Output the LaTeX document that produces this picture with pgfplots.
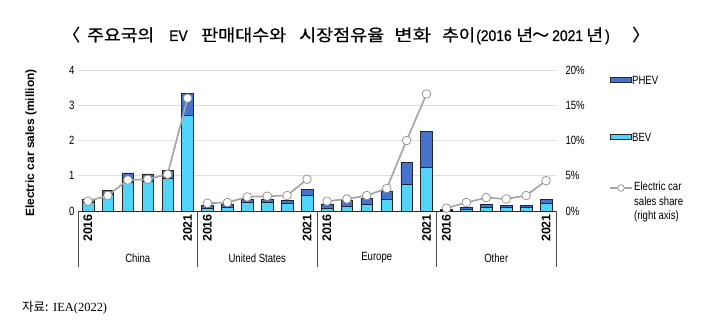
\documentclass[border=0pt]{standalone}
\usepackage{pgfplots}
\pgfplotsset{compat=1.18}
\usepackage{graphicx}
\usepackage{fontspec}
\setmainfont{Liberation Sans}
\newfontfamily\narrow{Liberation Sans}[FakeStretch=0.8]
\newfontfamily\latT{Liberation Sans}[FakeBold=0.9, FakeStretch=0.9]
\newfontfamily\cjk{Noto Sans CJK KR}
\newfontfamily\cjkT{Noto Sans CJK KR}[FakeBold=0.6]
\newfontfamily\serif{Liberation Serif}
\definecolor{bev}{HTML}{50D4FA}
\definecolor{phev}{HTML}{4472CC}
\definecolor{shareline}{HTML}{A6A6A6}
\definecolor{sharemark}{HTML}{8C8C8C}
\pgfplotsset{share/.style={shareline, line width=1.7pt, line join=round, mark=*, mark size=4.3bp, mark options={fill=white, draw=sharemark, line width=0.7pt}}}
\tikzset{tH/.style={anchor=base west, inner sep=0pt, font=\cjkT\fontsize{17}{18}\selectfont},
         tL/.style={anchor=base west, inner sep=0pt, font=\latT\fontsize{15.5}{18}\selectfont}}
\newcommand{\hw}[2]{\resizebox{#1}{13.5bp}{#2}}
\begin{document}
\begin{tikzpicture}
\useasboundingbox (0,0) rectangle (701bp,321bp);
\begin{axis}[
  at={(78bp,110bp)}, anchor=south west,
  scale only axis, width=478bp, height=141bp,
  xmin=-0.5, xmax=23.5, ymin=0, ymax=4,
  ybar stacked, bar width=11.6bp,
  axis x line*=bottom, axis y line*=left,
  x axis line style={draw=black!85, line width=0.7pt, -},
  y axis line style={draw=none},
  ytick={0,1,2,3,4},
  ymajorgrids, grid style={draw=black!13, line width=0.7pt},
  xtick={0,5,6,11,12,17,18,23},
  xticklabels={2016,2021,2016,2021,2016,2021,2016,2021},
  xticklabel style={yshift=-3bp, rotate=90, anchor=east, font=\bfseries\fontsize{12.5}{13}\selectfont, inner sep=0pt},
  major tick length=0pt,
  /pgf/number format/assume math mode=true,
  yticklabel style={font=\narrow\fontsize{12}{13}\selectfont},
  clip=false,
]
\addplot[fill=bev, draw=black!85, line width=0.5pt] coordinates {
 (0,0.26) (1,0.47) (2,0.82) (3,0.83) (4,0.93) (5,2.73)
 (6,0.08) (7,0.10) (8,0.24) (9,0.245) (10,0.23) (11,0.45)
 (12,0.09) (13,0.13) (14,0.19) (15,0.34) (16,0.75) (17,1.23)
 (18,0.02) (19,0.04) (20,0.11) (21,0.10) (22,0.10) (23,0.21)};
\addplot[fill=phev, draw=black!85, line width=0.5pt] coordinates {
 (0,0.08) (1,0.11) (2,0.26) (3,0.22) (4,0.22) (5,0.60)
 (6,0.08) (7,0.08) (8,0.10) (9,0.085) (10,0.07) (11,0.16)
 (12,0.11) (13,0.17) (14,0.17) (15,0.23) (16,0.62) (17,1.03)
 (18,0.03) (19,0.07) (20,0.09) (21,0.07) (22,0.07) (23,0.12)};
\draw[black!70, line width=0.6pt] (axis cs:-0.5,0) -- ([yshift=-56bp]axis cs:-0.5,0);
\draw[black!70, line width=0.6pt] (axis cs:5.5,0) -- ([yshift=-56bp]axis cs:5.5,0);
\draw[black!70, line width=0.6pt] (axis cs:11.5,0) -- ([yshift=-56bp]axis cs:11.5,0);
\draw[black!70, line width=0.6pt] (axis cs:17.5,0) -- ([yshift=-56bp]axis cs:17.5,0);
\draw[black!70, line width=0.6pt] (axis cs:23.5,0) -- ([yshift=-56bp]axis cs:23.5,0);
\node[font=\narrow\fontsize{12}{13}\selectfont] at ([yshift=-47bp]axis cs:2.5,0) {China};
\node[font=\narrow\fontsize{12}{13}\selectfont] at ([yshift=-47bp]axis cs:8.5,0) {United States};
\node[font=\narrow\fontsize{12}{13}\selectfont] at ([yshift=-47bp]axis cs:14.5,0) {Europe};
\node[font=\narrow\fontsize{12}{13}\selectfont] at ([yshift=-47bp]axis cs:20.5,0) {Other};
\end{axis}
\begin{axis}[
  at={(78bp,110bp)}, anchor=south west,
  scale only axis, width=478bp, height=141bp,
  xmin=-0.5, xmax=23.5, ymin=0, ymax=20,
  axis x line=none, axis y line*=right,
  y axis line style={draw=none},
  ytick={0,5,10,15,20},
  yticklabel={\pgfmathprintnumber{\tick}\%},
  major tick length=0pt,
  /pgf/number format/assume math mode=true,
  yticklabel style={font=\narrow\fontsize{12}{13}\selectfont, anchor=west, xshift=6bp},
  clip=false,
]
\addplot[share] coordinates {(0,1.4) (1,2.2) (2,4.4) (3,4.5) (4,5.2) (5,16.0)};
\addplot[share] coordinates {(6,1.1) (7,1.2) (8,2.0) (9,2.1) (10,2.2) (11,4.5)};
\addplot[share] coordinates {(12,1.4) (13,1.7) (14,2.2) (15,3.2) (16,10.0) (17,16.6)};
\addplot[share] coordinates {(18,0.4) (19,1.2) (20,1.9) (21,1.7) (22,2.2) (23,4.3)};
\end{axis}
% y label
\node[rotate=90, font=\bfseries\fontsize{12}{13}\selectfont] at (31bp,178bp) {Electric car sales (million)};
% legend
\draw[fill=phev, draw=black!85, line width=0.5pt] (610bp,238.5bp) rectangle (631bp,243.5bp);
\node[anchor=west, inner sep=0pt, font=\narrow\fontsize{12}{13}\selectfont] at (632bp,241bp) {PHEV};
\draw[fill=bev, draw=black!85, line width=0.5pt] (610bp,181.5bp) rectangle (631bp,186.5bp);
\node[anchor=west, inner sep=0pt, font=\narrow\fontsize{12}{13}\selectfont] at (632bp,184bp) {BEV};
\draw[shareline, line width=1.7pt] (610bp,133bp) -- (632bp,133bp);
\draw[fill=white, draw=sharemark, line width=0.7pt] (621bp,133bp) circle (3.3bp);
\node[anchor=north west, inner sep=0pt, align=left, font=\narrow\fontsize{12}{14.3}\selectfont] at (634bp,139bp) {Electric car\\sales share\\(right axis)};
% title
\node[tH] at (63bp,280bp) {〈};
\node[tH] at (87bp,280bp) {\hw{67bp}{주요국의}};
\node[tL] at (169bp,280bp) {EV};
\node[tH] at (201bp,280bp) {\hw{85bp}{판매대수와}};
\node[tH] at (299bp,280bp) {\hw{85bp}{시장점유율}};
\node[tH] at (394bp,280bp) {\hw{37bp}{변화}};
\node[tH] at (442bp,280bp) {\hw{33bp}{추이}};
\node[tL] at (476bp,280bp) {(2016};
\node[tH] at (516bp,280bp) {\hw{17bp}{년}};
\node[tH] at (532bp,280bp) {～};
\node[tL] at (552bp,280bp) {2021};
\node[tH] at (586bp,280bp) {\hw{17bp}{년}};
\node[tL] at (605bp,280bp) {)};
\node[tH] at (632bp,280bp) {〉};
% source
\node[anchor=west, inner sep=0pt, font=\fontsize{12.5}{13}\selectfont] at (22bp,13bp) {{\cjk 자료:} {\serif IEA(2022)}};
\end{tikzpicture}
\end{document}
